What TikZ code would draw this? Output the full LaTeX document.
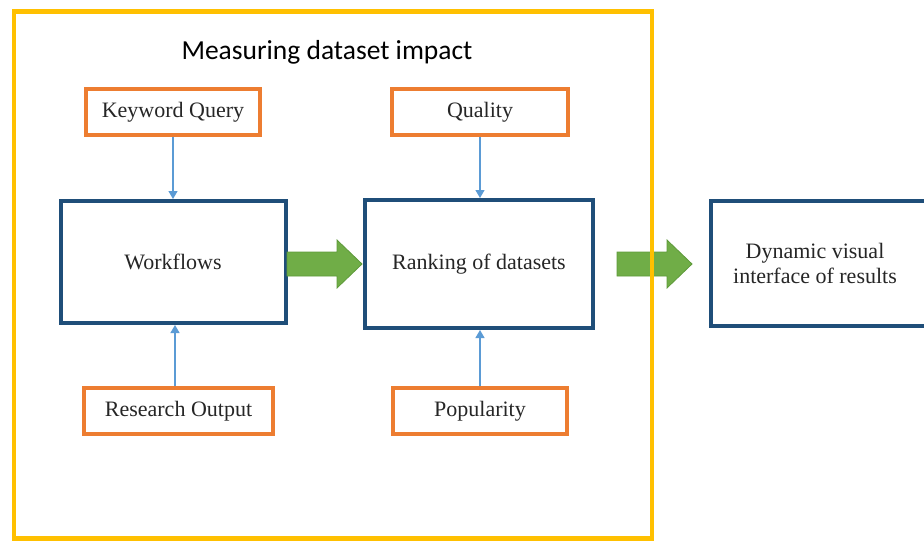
\documentclass[tikz,border=0pt]{standalone}
\usepackage{fontspec}
\setmainfont{Liberation Serif}
\newfontfamily\titlefont{Carlito}
\usetikzlibrary{arrows.meta}
\definecolor{frameyellow}{HTML}{FFC000}
\definecolor{boxorange}{HTML}{ED7D31}
\definecolor{boxblue}{HTML}{1F4E79}
\definecolor{linkblue}{HTML}{5B9BD5}
\definecolor{arrowgreen}{HTML}{70AD47}
\definecolor{arrowgreenedge}{HTML}{5E9A3A}
\definecolor{txt}{HTML}{262626}
\begin{document}
\begin{tikzpicture}[x=1pt,y=-1pt,
  inbox/.style={draw=boxorange, line width=3.5pt, fill=white, minimum height=46pt, inner sep=0pt, font=\fontsize{22}{24}\selectfont, text=txt},
  mainbox/.style={draw=boxblue, line width=4pt, fill=white, inner sep=0pt, font=\fontsize{22}{25}\selectfont, text=txt, align=center},
  link/.style={draw=linkblue, line width=1.2pt, -{Triangle[length=8pt,width=9pt]}},
  blockarrow/.style={fill=arrowgreen, draw=arrowgreenedge, line width=0.8pt, line join=miter}
]
\useasboundingbox (0,0) rectangle (924,541);
\clip (0,0) rectangle (924,541);
\fill[white] (0,0) rectangle (924,541);

% main boxes
\node[mainbox, minimum width=225pt, minimum height=122pt] (wf) at (173,262) {Workflows};
\node[mainbox, minimum width=228pt, minimum height=128pt] (rk) at (479,264) {Ranking of datasets};
\node[mainbox, minimum width=226pt, minimum height=125pt, anchor=west] (dv) at (709,263.5) {};
\node[font=\fontsize{22}{25}\selectfont, text=txt, align=center] (dvt) at (815,263) {Dynamic visual\\interface of results};

% input boxes
\node[inbox, minimum width=174pt] (kq) at (173,112) {Keyword Query};
\node[inbox, minimum width=176pt] (ql) at (480,112) {Quality};
\node[inbox, minimum width=189pt] (ro) at (178.5,411) {Research Output};
\node[inbox, minimum width=174pt] (pp) at (480,411) {Popularity};

% thin connectors
\draw[link] (kq.south) -- (kq.south |- wf.north);
\draw[link] (ql.south) -- (ql.south |- rk.north);
\draw[link] (ro.north -| 175,0) -- (wf.south -| 175,0);
\draw[link] (pp.north) -- (pp.north |- rk.south);

% green block arrows
\draw[blockarrow] (287,252) -- (337,252) -- (337,240) -- (362,264) -- (337,288) -- (337,276) -- (287,276) -- cycle;
\draw[blockarrow] (617,252) -- (667,252) -- (667,240) -- (692,264) -- (667,288) -- (667,276) -- (617,276) -- cycle;

% outer frame
\node[draw=frameyellow, line width=4.5pt, minimum width=638pt, minimum height=527pt, inner sep=0pt] (frame) at (333,275) {};
\node[font=\titlefont\fontsize{27.5}{30}\selectfont, text=black] (title) at (327,52) {Measuring dataset impact};
\end{tikzpicture}
\end{document}
